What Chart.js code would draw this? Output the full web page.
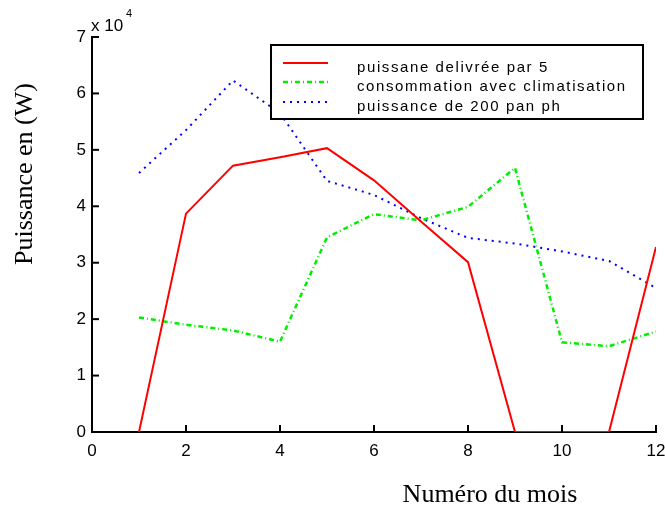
<!DOCTYPE html>
<html>
<head>
<meta charset="utf-8">
<script src="https://cdn.jsdelivr.net/npm/chart.js@4/dist/chart.umd.min.js"></script>
<style>
  html, body { margin: 0; padding: 0; background: #fff; }
  #wrap { width: 665px; height: 510px; }
</style>
</head>
<body>
<div id="wrap"><canvas id="chart"></canvas></div>
<script>
// months on x axis
const months = [1, 2, 3, 4, 5, 6, 7, 8, 9, 10, 11, 12];
// series values (W)
const delivree = [0, 38700, 47200, 48700, 50300, 44600, 37300, 30100, 0, 0, 0, 32800];
const consommation = [20300, 19000, 18000, 16000, 34500, 38600, 37500, 39900, 46800, 15900, 15200, 17800];
const panneaux = [45900, 53500, 62300, 56500, 44500, 42000, 37900, 34400, 33400, 32000, 30300, 25500];

const seriesLabels = [
  "puissane delivrée par 5",
  "consommation avec climatisation",
  "puissance de 200 pan ph"
];
const xTitle = "Numéro du mois";
const yTitle = "Puissance en (W)";

const toPoints = vals => months.map((m, i) => ({ x: m, y: vals[i] }));

const styles = [
  { color: "#ff0000", width: 2, dash: [] },
  { color: "#00ee00", width: 2.5, dash: [5, 3, 1, 3] },
  { color: "#0000ff", width: 2, dash: [2, 5] }
];

// inward tick marks, titles, exponent label and boxed legend
const decorations = {
  id: "decorations",
  afterDraw(c) {
    const ctx = c.ctx;
    const xs = c.scales.x, ys = c.scales.y;
    const a = c.chartArea;
    ctx.save();
    ctx.strokeStyle = "#000";
    ctx.lineWidth = 2;
    xs.ticks.forEach(t => {
      const px = xs.getPixelForValue(t.value);
      ctx.beginPath(); ctx.moveTo(px, a.bottom); ctx.lineTo(px, a.bottom - 7); ctx.stroke();
    });
    ys.ticks.forEach(t => {
      const py = ys.getPixelForValue(t.value);
      ctx.beginPath(); ctx.moveTo(a.left, py); ctx.lineTo(a.left + 7, py); ctx.stroke();
    });

    // axis titles
    ctx.fillStyle = "#000";
    ctx.font = '26px "Liberation Serif"';
    ctx.textAlign = "center";
    ctx.textBaseline = "middle";
    ctx.fillText(xTitle, 490, 495);
    ctx.save();
    ctx.translate(25, 174);
    ctx.rotate(-Math.PI / 2);
    ctx.fillText(yTitle, 0, 0);
    ctx.restore();

    // x 10^4
    ctx.textAlign = "left";
    ctx.textBaseline = "alphabetic";
    ctx.font = '17px "Liberation Sans"';
    ctx.fillText("x 10", 91, 31);
    ctx.font = '11px "Liberation Sans"';
    ctx.fillText("4", 126, 17);

    // legend
    const box = { l: 271, t: 45, r: 643, b: 119 };
    ctx.fillStyle = "#fff";
    ctx.fillRect(box.l, box.t, box.r - box.l, box.b - box.t);
    ctx.strokeStyle = "#000";
    ctx.lineWidth = 2;
    ctx.strokeRect(box.l, box.t, box.r - box.l, box.b - box.t);
    const rows = [63, 82, 102];
    ctx.font = '15px "Liberation Sans"';
    ctx.letterSpacing = "1.6px";
    ctx.fillStyle = "#000";
    ctx.textBaseline = "middle";
    seriesLabels.forEach((lab, i) => {
      const s = styles[i];
      ctx.strokeStyle = s.color;
      ctx.lineWidth = s.width;
      ctx.setLineDash(s.dash);
      ctx.beginPath(); ctx.moveTo(283, rows[i]); ctx.lineTo(328, rows[i]); ctx.stroke();
      ctx.setLineDash([]);
      ctx.fillText(lab, 357, rows[i] + 5);
    });
    ctx.restore();
  }
};

new Chart(document.getElementById("chart"), {
  type: "line",
  data: {
    datasets: [delivree, consommation, panneaux].map((vals, i) => ({
      label: seriesLabels[i],
      data: toPoints(vals),
      borderColor: styles[i].color,
      borderWidth: styles[i].width,
      borderDash: styles[i].dash,
      pointRadius: 0,
      tension: 0,
      fill: false
    }))
  },
  options: {
    responsive: true,
    maintainAspectRatio: false,
    animation: false,
    layout: { padding: { top: 37, right: 9, left: 0, bottom: 0 } },
    plugins: { legend: { display: false }, tooltip: { enabled: false } },
    scales: {
      x: {
        type: "linear",
        min: 0, max: 12,
        grid: { display: false, drawTicks: false },
        border: { display: true, color: "#000", width: 2 },
        ticks: {
          stepSize: 2, padding: 9, color: "#000",
          maxRotation: 0,
          font: { family: "Liberation Sans", size: 17 }
        },
        afterFit(s) { s.height = 78; s.paddingLeft = 0; s.paddingRight = 0; }
      },
      y: {
        min: 0, max: 70000,
        grid: { display: false, drawTicks: false },
        border: { display: true, color: "#000", width: 2 },
        ticks: {
          stepSize: 10000, padding: 6, color: "#000",
          font: { family: "Liberation Sans", size: 17 },
          callback: v => v / 10000
        },
        afterFit(s) { s.width = 92; s.paddingTop = 0; s.paddingBottom = 0; }
      }
    }
  },
  plugins: [decorations]
});
</script>
</body>
</html>
